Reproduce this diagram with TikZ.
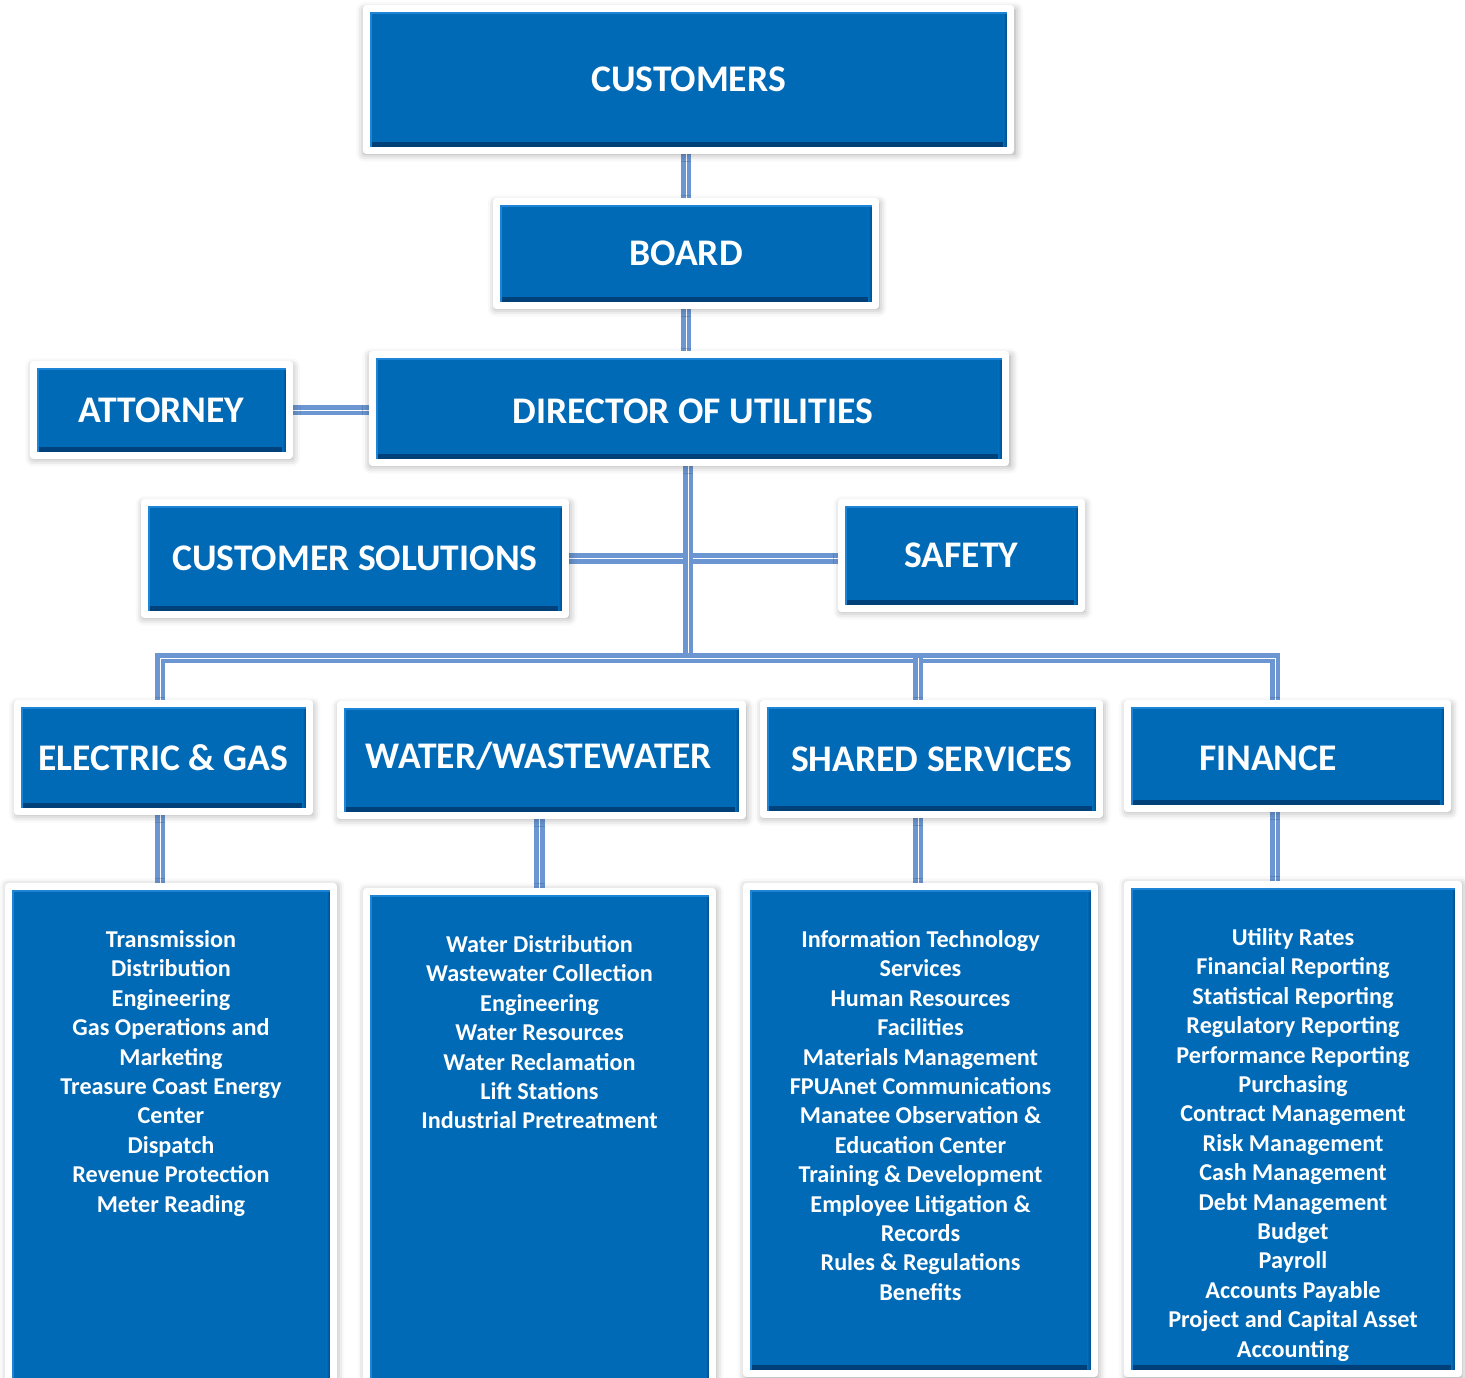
\documentclass[tikz,border=0pt]{standalone}
\usepackage{fontspec}
\setmainfont{Carlito}
\usetikzlibrary{fit,positioning,shadows.blur,backgrounds}
\definecolor{boxblue}{RGB}{0,106,182}
\definecolor{boxdark}{RGB}{0,62,118}
\definecolor{boxlight}{RGB}{30,132,214}
\definecolor{linkblue}{RGB}{107,150,210}
\begin{document}
\begin{tikzpicture}[x=0.5pt,y=-0.5pt,
  bevel/.style={path picture={
    \shade[top color=boxblue,bottom color=boxdark] ([shift={(1.75pt,1.75pt)}]path picture bounding box.south west) rectangle ([shift={(-1.75pt,4pt)}]path picture bounding box.south east);
    \shade[left color=boxblue,right color=boxdark!70!boxblue] ([shift={(-3.5pt,1.75pt)}]path picture bounding box.south east) rectangle ([shift={(-1.75pt,-1.75pt)}]path picture bounding box.north east);
    \fill[boxlight] ([shift={(1.75pt,-1.75pt)}]path picture bounding box.north west) rectangle ([shift={(-1.75pt,-2.75pt)}]path picture bounding box.north east);
    \fill[boxlight] ([shift={(1.75pt,1.75pt)}]path picture bounding box.south west) rectangle ([shift={(2.75pt,-1.75pt)}]path picture bounding box.north west);}},
  orgbox/.style={bevel,fill=boxblue,draw=white,line width=3.5pt,line join=round,inner sep=1.75pt,
    blur shadow={shadow xshift=0.6pt,shadow yshift=-1.2pt,shadow blur radius=4pt,shadow scale=1.01,shadow opacity=40}},
  hdrtxt/.style={text=white,font=\bfseries\fontsize{18.8}{22}\selectfont,inner sep=0pt},
  listtxt/.style={text=white,font=\bfseries\fontsize{12.1}{14.7}\selectfont,align=center,inner sep=0pt},
  link/.style={draw=linkblue,line width=2.3pt,double=white,double distance=0.5pt}]
\useasboundingbox (0,0) rectangle (1465,1377);
\clip (0,0) rectangle (1465,1377);

% top of the chart
\node[orgbox,fit={(370,12) (1007,147)}] (cust) {};
\node[hdrtxt] (custtxt) at (cust) {CUSTOMERS};
\node[orgbox,fit={(500,205) (872,302)}] (board) {};
\node[hdrtxt] (boardtxt) at (board) {BOARD};
\node[orgbox,fit={(37,368) (286,452)}] (att) {};
\node[hdrtxt] (atttxt) at (att) {ATTORNEY};
\node[orgbox,fit={(376,358) (1002,459)}] (dir) {};
\node[hdrtxt] (dirtxt) at (693,411) {DIRECTOR OF UTILITIES};
\node[orgbox,fit={(148,506) (562,611)}] (cs) {};
\node[hdrtxt] (cstxt) at (cs) {CUSTOMER SOLUTIONS};
\node[orgbox,fit={(845,506) (1078,605)}] (safe) {};
\node[hdrtxt] (safetxt) at (safe) {SAFETY};

% departments
\node[orgbox,fit={(21,707) (306,808)}] (eg) {};
\node[hdrtxt] (egtitle) at (eg) {ELECTRIC \& GAS};
\node[orgbox,fit={(344,708) (739,812)}] (ww) {};
\node[hdrtxt] (wwtitle) at (539,756) {WATER/WASTEWATER};
\node[orgbox,fit={(767,707) (1096,811)}] (ss) {};
\node[hdrtxt] (sstitle) at (ss) {SHARED SERVICES};
\node[orgbox,fit={(1131,707) (1444,805)}] (fin) {};
\node[hdrtxt] (fintitle) at (1268,758) {FINANCE};

% division lists
\node[orgbox,fit={(12,890) (330,1395)}] (egl) {};
\node[listtxt,below=23.5pt of egl.north] (egtxt) {Transmission\\Distribution\\Engineering\\Gas Operations and\\Marketing\\Treasure Coast Energy\\Center\\Dispatch\\Revenue Protection\\Meter Reading};
\node[orgbox,fit={(370,895) (709,1395)}] (wwl) {};
\node[listtxt,below=23.5pt of wwl.north] (wwtxt) {Water Distribution\\Wastewater Collection\\Engineering\\Water Resources\\Water Reclamation\\Lift Stations\\Industrial Pretreatment};
\node[orgbox,fit={(750,890) (1091,1370)}] (ssl) {};
\node[listtxt,below=23.5pt of ssl.north] (sstxt) {Information Technology\\Services\\Human Resources\\Facilities\\Materials Management\\FPUAnet Communications\\Manatee Observation \&\\Education Center\\Training \& Development\\Employee Litigation \&\\Records\\Rules \& Regulations\\Benefits};
\node[orgbox,fit={(1131,888) (1455,1370)}] (finl) {};
\node[listtxt,below=23.5pt of finl.north] (fintxt) {Utility Rates\\Financial Reporting\\Statistical Reporting\\Regulatory Reporting\\Performance Reporting\\Purchasing\\Contract Management\\Risk Management\\Cash Management\\Debt Management\\Budget\\Payroll\\Accounts Payable\\Project and Capital Asset\\Accounting};

\coordinate (busmid) at (688,658);
\coordinate (busL) at (160,658);
\coordinate (busS) at (918,658);
\coordinate (busF) at (1275,658);

\begin{scope}[on background layer]
\draw[link] (board.north) -- (board.north |- cust.south);
\draw[link] (board.south) -- (board.south |- dir.north);
\draw[link] (att.east) -- (att.east -| dir.west);
\draw[link] (cs.east) -- (cs.east -| safe.west);
\draw[link] (dir.south -| busmid) -- (busmid);
\draw[link] (busL |- eg.north) -- (busL) -- (busF) -- (busF |- fin.north);
\draw[link] (busS) -- (busS |- ss.north);
\draw[link] (busL |- eg.south) -- (busL |- egl.north);
\draw[link] (wwl.north |- ww.south) -- (wwl.north);
\draw[link] (busS |- ss.south) -- (busS |- ssl.north);
\draw[link] (busF |- fin.south) -- (busF |- finl.north);
\end{scope}
\end{tikzpicture}
\end{document}
